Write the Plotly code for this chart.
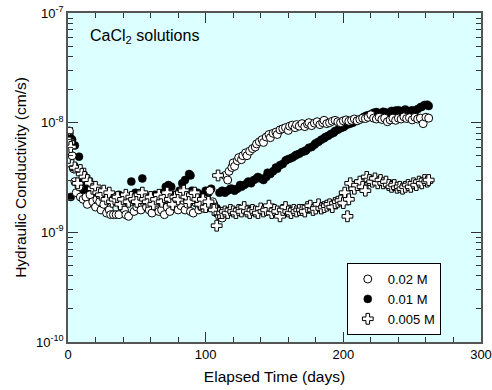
import plotly.graph_objects as go

# ---- data (K in units of 1e-9 cm/s) ----
days_020 = [1, 2, 3, 4, 5, 6, 8, 9, 11, 13, 14, 16, 18, 20, 21, 23, 24, 26, 28, 30, 31, 33, 35, 37, 39, 41, 42, 44, 46, 48,
            50, 52, 53, 55, 57, 59, 61, 63, 64, 66, 68, 70, 72, 74, 76, 78, 80, 82, 84, 85, 87, 89, 91, 93, 95, 97, 99, 101,
            103, 105, 106, 108, 110, 112,
            114, 116, 117, 119, 120, 121, 123, 124, 126, 127, 129, 130, 132, 134, 136, 137, 139, 141, 142, 144, 146, 147,
            149, 151, 152, 154, 156, 158, 160, 161, 163, 165, 166, 168, 170, 172, 174, 175, 177, 179, 181, 183, 185, 186,
            188, 190, 192, 194, 196, 198, 200, 202, 204, 206, 208, 210, 212, 214, 216, 218, 220, 222, 224, 226, 228, 230,
            232, 234, 236, 238, 240, 242, 244, 246, 248, 250, 252, 254, 256, 258, 260, 262]
k_020 = [8.4, 6.6, 5.0, 3.8, 2.9, 2.3, 2.6, 2.1, 2.0, 2.1, 1.8, 2.2, 1.9, 1.7, 2.0, 1.9, 1.6, 1.8, 1.5, 1.6, 1.45, 1.45, 1.45,
         1.45, 1.7, 1.6, 1.45, 1.4, 1.9, 1.55, 1.7, 1.8, 1.6, 1.9, 1.7, 1.6, 1.5, 1.8, 1.7, 1.55, 1.6, 1.45, 1.7, 1.55, 1.9,
         1.7, 1.6, 1.75, 1.95, 1.6, 1.8, 1.55, 1.5, 1.85, 1.6, 1.7, 1.65, 2.0, 2.4, 1.9, 1.7, 1.5, 1.4, 1.35,
         3.3, 3.0, 3.6, 3.9, 4.3, 4.0, 4.5, 4.8, 4.6, 5.0, 5.3, 5.0, 5.5, 5.8, 6.0, 6.4, 6.7, 7.0, 6.6, 7.4, 7.8, 7.3,
         8.0, 8.2, 7.8, 8.6, 8.8, 9.0, 8.5, 9.3, 9.5, 9.0, 9.6, 9.3, 9.8, 9.2, 9.7, 10.0, 9.4, 9.9, 10.2, 9.6, 10.0, 10.5,
         9.8, 10.0, 10.3, 10.5, 10.2, 10.0, 10.4, 10.6, 10.3, 10.5, 10.8, 10.4, 10.7, 11.0, 10.9, 11.2, 11.8, 11.0, 10.8,
         11.2, 10.7, 11.0, 10.2, 10.6, 11.0, 10.5, 11.0, 10.8, 11.3, 10.9, 11.1, 10.6, 11.2, 10.8, 11.0, 9.8, 11.2, 11.0]

days_010 = [1, 2, 2, 3, 5, 8, 10, 11, 13, 15, 17, 19, 21, 23, 25, 27, 29, 31, 33, 35, 37, 39, 41, 43, 46, 47, 49, 51, 54, 55,
            57, 59, 61, 63, 65, 67, 69, 71, 73, 75, 77, 79, 81, 83, 85, 88, 89, 90, 92, 94, 96, 98, 100, 102, 104, 106, 108,
            110, 112, 114, 116, 118, 119, 121, 123, 125, 126, 128, 130, 131, 133, 135, 137, 138, 140, 142, 144, 145, 147,
            149, 151, 152, 154, 156, 158, 159, 161, 163, 165, 166, 168, 170, 172, 173, 175, 177, 179, 180, 182, 184, 186,
            187, 189, 191, 193, 194, 196, 198, 200, 201, 203, 205, 207, 208, 210, 212, 214, 215, 217, 219, 221, 222, 224,
            226, 228, 229, 231, 233, 235, 236, 238, 240, 242, 243, 245, 247, 249, 250, 252, 254, 256, 257, 259, 261, 262]
k_010 = [8.0, 2.1, 7.2, 7.0, 6.2, 4.9, 2.9, 2.4, 2.6, 2.5, 2.2, 2.0, 2.3, 2.1, 2.0, 1.9, 2.1, 2.0, 1.9, 2.0, 2.2, 1.9, 2.0,
         2.1, 2.9, 2.0, 2.3, 2.0, 3.1, 2.2, 2.0, 2.1, 1.9, 2.2, 2.0, 2.1, 2.3, 2.6, 2.7, 2.6, 2.2, 2.0, 2.4, 2.8, 3.0, 3.4,
         3.3, 2.4, 2.1, 2.3, 2.0, 2.2, 2.4, 2.3, 2.5, 1.8, 1.66,
         2.3, 2.4, 2.3, 2.4, 2.5, 2.5, 2.4, 2.5, 2.7, 2.6, 2.7, 2.8, 2.9, 2.8, 3.0, 3.1, 3.2, 3.1, 3.0, 3.2, 3.5, 3.4,
         3.6, 3.9, 3.8, 4.1, 4.2, 4.5, 4.6, 4.7, 4.8, 5.0, 5.1, 5.2, 5.4, 5.5, 5.6, 5.9, 6.0, 6.3, 6.5, 6.7, 7.0, 7.2,
         7.4, 7.6, 7.9, 8.1, 8.4, 8.6, 8.9, 9.1, 9.3, 9.6, 9.8, 10.0, 10.3, 10.5, 10.7, 11.0, 11.3, 11.6, 11.8, 12.0, 12.3,
         12.5, 12.2, 12.0, 12.6, 12.4, 12.2, 12.8, 12.6, 12.9, 13.0, 12.5, 12.8, 13.2, 12.4, 12.8, 13.0, 12.6, 13.3,
         13.8, 14.0, 14.5, 14.6, 14.2]

days_005 = [1, 2, 3, 5, 7, 9, 10, 12, 14, 16, 18, 20, 22, 24, 26, 28, 30, 32, 34, 36, 38, 40, 42, 44, 46, 48, 50, 52, 54, 56,
            58, 60, 62, 64, 66, 68, 70, 72, 74, 76, 78, 80, 82, 84, 86, 88, 90, 92, 94, 96, 98, 100, 102, 109, 106, 108, 110,
            112, 114, 116, 118, 120, 122, 124, 126, 128, 130, 132, 134, 136, 138, 140, 142, 144, 146, 148, 150, 152, 154,
            156, 158, 160, 162, 164, 166, 168, 170, 172, 174, 176, 178, 180, 182, 184, 186, 188, 190, 192, 194, 196, 198,
            200, 201, 203, 204, 205, 208, 210, 212, 214, 216, 217, 219, 221, 223, 225, 227, 229, 231, 233, 235, 237, 239,
            241, 243, 245, 247, 249, 251, 253, 255, 257, 259, 261, 262]
k_005 = [6.6, 6.0, 4.1, 3.9, 2.8, 3.7, 3.4, 3.2, 3.0, 2.8, 2.5, 2.6, 2.3, 2.2, 2.4, 2.0, 2.3, 1.9, 2.0, 2.1, 1.8, 2.0, 2.2,
         1.9, 2.1, 2.0, 1.9, 2.2, 2.3, 2.0, 1.9, 2.1, 1.8, 2.0, 2.2, 1.9, 2.1, 2.3, 2.0, 1.8, 2.1, 2.0, 2.3, 2.4, 2.1, 1.9,
         2.2, 2.3, 2.0, 1.8, 2.0, 1.7, 1.9, 3.3, 1.6, 1.15, 1.5,
         1.5, 1.55, 1.5, 1.6, 1.55, 1.5, 1.6, 1.55, 1.7, 1.55, 1.5, 1.6, 1.55, 1.5, 1.65, 1.55, 1.6, 1.75, 1.5, 1.6,
         1.55, 1.4, 1.6, 1.7, 1.55, 1.5, 1.6, 1.55, 1.6, 1.6, 1.55, 1.7, 1.75, 1.6, 1.65, 1.8, 1.65, 1.7, 1.75, 1.8, 1.7,
         1.85, 1.9, 1.95, 1.85, 2.3, 1.4, 2.0, 2.8, 2.5, 2.7, 2.9, 2.6, 2.4, 3.2, 3.0, 2.9, 3.1, 2.8, 3.0, 2.8, 2.9, 2.7,
         2.6, 2.7, 2.55, 2.6, 2.5, 2.6, 2.7, 2.6, 2.8, 2.7, 2.9, 2.8, 3.0, 2.9, 3.0]

series_names = ["0.02 M", "0.01 M", "0.005 M"]
y_tick_vals = [1e-10, 1e-9, 1e-8, 1e-7]
y_tick_text = ["10<sup>-10</sup>", "10<sup>-9</sup>", "10<sup>-8</sup>", "10<sup>-7</sup>"]
x_tick_vals = [0, 100, 200, 300]

FONT = "Arial, Liberation Sans, sans-serif"

def scale(v):
    return [x * 1e-9 for x in v]

fig = go.Figure()
fig.add_trace(go.Scatter(x=days_010, y=scale(k_010), mode="markers", name=series_names[1], legendrank=2,
                         marker=dict(symbol="circle", size=8, color="black", line=dict(color="black", width=0.5))))
fig.add_trace(go.Scatter(x=days_020, y=scale(k_020), mode="markers", name=series_names[0], legendrank=1,
                         marker=dict(symbol="circle", size=8, color="white", line=dict(color="black", width=1))))
fig.add_trace(go.Scatter(x=days_005, y=scale(k_005), mode="markers", name=series_names[2], legendrank=3,
                         marker=dict(symbol="cross", size=9, color="white", line=dict(color="black", width=1))))

minor_y = [k * 10.0 ** e for e in (-10, -9, -8) for k in range(2, 10)]

fig.update_layout(
    width=492, height=390,
    margin=dict(l=68, r=11, t=13, b=48, autoexpand=False),
    paper_bgcolor="white",
    plot_bgcolor="#DCFFFF",
    font=dict(family=FONT, size=13, color="black"),
    showlegend=True,
    legend=dict(x=0.675, y=0.24, xanchor="left", yanchor="top", bgcolor="white",
                bordercolor="black", borderwidth=1, font=dict(size=13), itemwidth=30,
                tracegroupgap=0, traceorder="normal"),
    xaxis=dict(range=[0, 300], tickvals=x_tick_vals, ticks="inside", ticklen=10, tickcolor="#333",
               showline=True, linecolor="#555", linewidth=1.5, mirror="allticks", showgrid=False, zeroline=False,
               automargin=False,
               minor=dict(dtick=20, ticks="inside", ticklen=5, tickcolor="#333", showgrid=False),
               title=dict(text="Elapsed Time (days)", font=dict(size=15.5), standoff=10),
               tickfont=dict(size=13)),
    yaxis=dict(type="log", range=[-10, -7], tickvals=y_tick_vals, ticktext=y_tick_text, ticks="inside",
               ticklen=10, tickcolor="#333", showline=True, linecolor="#555", linewidth=1.5, mirror="allticks",
               showgrid=False, zeroline=False, automargin=False,
               minor=dict(tickvals=minor_y, ticks="inside", ticklen=5, tickcolor="#333", showgrid=False),
               title=dict(text="Hydraulic Conductivity (cm/s)", font=dict(size=15.5), standoff=6),
               tickfont=dict(size=13)),
    annotations=[dict(text="CaCl<sub>2</sub> solutions", x=0.048, y=0.93, xref="paper", yref="paper",
                      xanchor="left", yanchor="middle", showarrow=False, font=dict(size=16))],
)

fig.write_html("out.html")
